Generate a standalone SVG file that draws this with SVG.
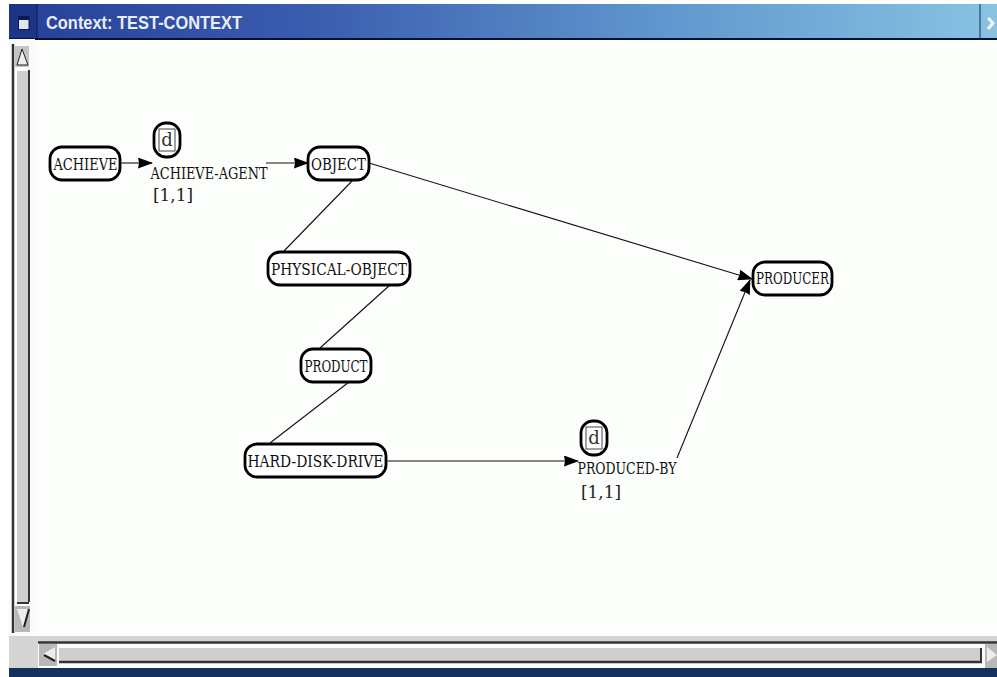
<svg xmlns="http://www.w3.org/2000/svg" width="997" height="677" viewBox="0 0 997 677">
<style>
.n{fill:#fff;stroke:#000;stroke-width:2.8}
.t{font-family:"DejaVu Serif",serif;font-size:17px;fill:#111;text-anchor:middle}
.b{font-family:"DejaVu Serif",serif;font-size:16px;fill:#222;text-anchor:middle}
.c{fill:none;stroke:#111;stroke-width:1.1}
.d{font-family:"DejaVu Serif",serif;font-size:18px;fill:#333;text-anchor:middle}
.ttl{font-family:"Liberation Sans",sans-serif;font-size:19px;font-weight:bold;fill:#e8eef8}
</style>
<defs>
<linearGradient id="tb" x1="0" x2="1" y1="0" y2="0">
<stop offset="0" stop-color="#26409a"/><stop offset="0.3" stop-color="#3a5cae"/><stop offset="0.65" stop-color="#5f95cd"/><stop offset="1" stop-color="#88c3e2"/>
</linearGradient>
<marker id="a" viewBox="0 0 15 11" refX="14" refY="5.500" markerWidth="15" markerHeight="11" markerUnits="userSpaceOnUse" orient="auto"><path d="M0 0L15 5.500L0 11L1 5.500Z" fill="#000"/></marker>
</defs>
<rect width="997" height="677" fill="#fff"/>
<rect x="9" y="39" width="988" height="600" fill="#fcfefb"/>
<g id="window-frame">
<rect x="9" y="4" width="988" height="35" fill="url(#tb)"/>
<rect x="9" y="4" width="28" height="35" fill="#1d3586"/>
<rect x="18.500" y="17" width="10.500" height="12.500" fill="#dfe6f4" stroke="#0d1a4a" stroke-width="1"/>
<rect x="18.500" y="16" width="10.500" height="4" fill="#0d1a4a"/>
<line x1="37" y1="4" x2="37" y2="39" stroke="#0d1a4a"/>
<line x1="9" y1="39" x2="997" y2="39" stroke="#08122e" stroke-width="2"/>
<line x1="980" y1="4" x2="980" y2="39" stroke="#1a2c5a"/>
<text class="ttl" x="46" y="29" textLength="196" lengthAdjust="spacingAndGlyphs">Context: TEST-CONTEXT</text>
<path d="M988 18L993 23L988 29" fill="none" stroke="#f2f8fb" stroke-width="3"/>
<rect x="9" y="39" width="26" height="600" fill="#fbfbfb"/>
<rect x="9" y="636" width="988" height="32" fill="#d4d4d4"/>
<rect x="9" y="668" width="988" height="9" fill="#15305c"/>
</g>
<g id="v-scrollbar">
<rect x="12" y="44" width="18" height="588" fill="#fff"/>
<line x1="13" y1="44" x2="13" y2="633" stroke="#333" stroke-width="2.500"/>
<rect x="17" y="71" width="12" height="531" fill="#cfcfcf"/>
<line x1="29" y1="70" x2="29" y2="602" stroke="#333" stroke-width="2"/>
<line x1="17" y1="603" x2="29" y2="603" stroke="#333" stroke-width="2"/>
<rect x="15" y="46" width="14" height="21" fill="#c4c4c4"/>
<path d="M22 49L17 65H28Z" fill="#eee" stroke="#222"/>
<rect x="15" y="606" width="15" height="26" fill="#b8b8b8"/>
<path d="M17 609L23 627L29 609" fill="#eee"/>
<line x1="24" y1="627" x2="29" y2="609" stroke="#222" stroke-width="2"/>
</g>
<g id="h-scrollbar">
<rect x="38" y="642" width="959" height="26" fill="#fbfbfb"/>
<line x1="38" y1="642.500" x2="997" y2="642.500" stroke="#333" stroke-width="2.500"/>
<rect x="59" y="648" width="922" height="13" fill="#cfcfcf"/>
<line x1="59" y1="662" x2="982" y2="662" stroke="#333" stroke-width="2.500"/>
<line x1="981" y1="648" x2="981" y2="662" stroke="#333" stroke-width="2"/>
<rect x="39" y="644" width="18" height="22" fill="#b8b8b8"/>
<path d="M55 647L43 654L55 661Z" fill="#eee"/>
<line x1="44" y1="655" x2="55" y2="661" stroke="#222" stroke-width="2"/>
<rect x="985" y="644" width="12" height="24" fill="#b8b8b8"/>
<path d="M987 647L997 655L987 662Z" fill="#eee"/>
</g>
<g id="connectors">
<line class="c" x1="120" y1="163" x2="152" y2="163" marker-end="url(#a)"/>
<line class="c" x1="266" y1="163" x2="308" y2="163" marker-end="url(#a)"/>
<line class="c" x1="369" y1="163" x2="752" y2="279" marker-end="url(#a)"/>
<line class="c" x1="353" y1="180" x2="284" y2="251"/>
<line class="c" x1="390" y1="285" x2="320" y2="348"/>
<line class="c" x1="349" y1="382" x2="270" y2="443"/>
<line class="c" x1="386" y1="461" x2="578" y2="461" marker-end="url(#a)"/>
<line class="c" x1="677" y1="458" x2="750" y2="280" marker-end="url(#a)"/>
</g>
<g id="node-achieve"><rect class="n" x="50" y="147" width="70" height="33" rx="12"/><text class="t" x="85.500" y="170" textLength="64" lengthAdjust="spacingAndGlyphs">ACHIEVE</text></g>
<g id="node-object"><rect class="n" x="308" y="147" width="61" height="33" rx="12"/><text class="t" x="338.500" y="170" textLength="55" lengthAdjust="spacingAndGlyphs">OBJECT</text></g>
<g id="node-physical-object"><rect class="n" x="268" y="252" width="142" height="33" rx="12"/><text class="t" x="339" y="275" textLength="136" lengthAdjust="spacingAndGlyphs">PHYSICAL-OBJECT</text></g>
<g id="node-product"><rect class="n" x="301" y="349" width="70" height="33" rx="12"/><text class="t" x="336" y="372" textLength="63" lengthAdjust="spacingAndGlyphs">PRODUCT</text></g>
<g id="node-hard-disk-drive"><rect class="n" x="245" y="444" width="141" height="33" rx="12"/><text class="t" x="315.500" y="467" textLength="136" lengthAdjust="spacingAndGlyphs">HARD-DISK-DRIVE</text></g>
<g id="node-producer"><rect class="n" x="753" y="262" width="79" height="33" rx="12"/><text class="t" x="792.500" y="284" textLength="73" lengthAdjust="spacingAndGlyphs">PRODUCER</text></g>
<g id="node-d1"><rect class="n" x="154" y="123" width="26" height="34" rx="12"/><rect x="159" y="129" width="16" height="22" fill="#fff" stroke="#444"/><text class="d" x="167" y="146">d</text></g>
<g id="node-d2"><rect class="n" x="581" y="421" width="26" height="34" rx="12"/><rect x="586" y="427" width="16" height="22" fill="#fff" stroke="#444"/><text class="d" x="594" y="444">d</text></g>
<g id="label-achieve-agent"><text class="t" x="209" y="179" textLength="117" lengthAdjust="spacingAndGlyphs">ACHIEVE-AGENT</text><text class="b" x="173" y="201" textLength="40" lengthAdjust="spacingAndGlyphs">[1,1]</text></g>
<g id="label-produced-by"><text class="t" x="627" y="474" textLength="99" lengthAdjust="spacingAndGlyphs">PRODUCED-BY</text><text class="b" x="601" y="498" textLength="40" lengthAdjust="spacingAndGlyphs">[1,1]</text></g>
</svg>
